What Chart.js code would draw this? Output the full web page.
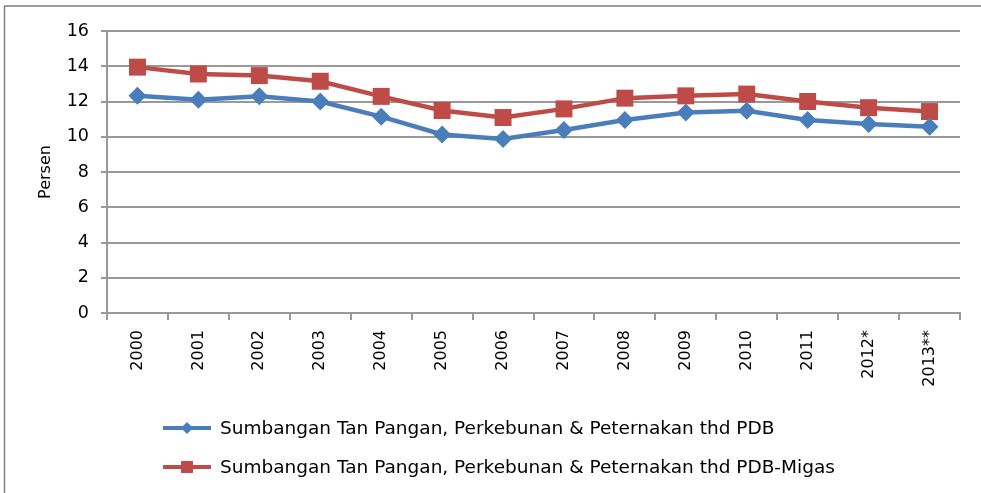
<!DOCTYPE html>
<html>
<head>
<meta charset="utf-8">
<script src="https://cdn.jsdelivr.net/npm/chart.js@4"></script>
<style>
  html, body { margin: 0; padding: 0; background: #fff; }
  #wrap { position: relative; width: 981px; height: 493px; }
</style>
</head>
<body>
<div id="wrap"><canvas id="chart" width="981" height="493"></canvas></div>
<script>
// data
const years = ['2000', '2001', '2002', '2003', '2004', '2005', '2006', '2007', '2008', '2009', '2010', '2011', '2012*', '2013**'];
const pdbValues = [12.32, 12.1, 12.3, 12.0, 11.14, 10.13, 9.87, 10.38, 10.95, 11.37, 11.47, 10.95, 10.72, 10.57];
const migasValues = [13.95, 13.56, 13.47, 13.15, 12.29, 11.49, 11.09, 11.58, 12.19, 12.32, 12.42, 12.0, 11.65, 11.43];
const seriesNames = [
    'Sumbangan Tan Pangan, Perkebunan & Peternakan thd PDB',
    'Sumbangan Tan Pangan, Perkebunan & Peternakan thd PDB-Migas'
];
const yTicks = [0, 2, 4, 6, 8, 10, 12, 14, 16];

const FONT = "'DejaVu Sans', Verdana, sans-serif";
const BLUE = '#4a7ebb';
const RED = '#be4b48';
const GRID = '#999999';

// frame and legend drawn by hand, like the office chart
const framePlugin = {
    id: 'frame',
    beforeDraw(chart) {
        const ctx = chart.ctx;
        ctx.save();
        ctx.fillStyle = '#fff';
        ctx.fillRect(0, 0, chart.width, chart.height);
        ctx.strokeStyle = '#7f7f7f';
        ctx.lineWidth = 1.5;
        ctx.beginPath();
        ctx.moveTo(4.5, chart.height);
        ctx.lineTo(4.5, 6);
        ctx.lineTo(chart.width, 6);
        ctx.stroke();
        ctx.restore();
    },
    afterDraw(chart) {
        const ctx = chart.ctx;
        const rows = [428, 467];
        ctx.save();
        chart.data.datasets.forEach((ds, i) => {
            const y = rows[i];
            ctx.strokeStyle = ds.borderColor;
            ctx.lineWidth = 4;
            ctx.beginPath();
            ctx.moveTo(163, y);
            ctx.lineTo(211, y);
            ctx.stroke();
            ctx.fillStyle = ds.backgroundColor;
            ctx.beginPath();
            if (ds.pointStyle === 'rectRot') {
                ctx.moveTo(187, y - 6);
                ctx.lineTo(193, y);
                ctx.lineTo(187, y + 6);
                ctx.lineTo(181, y);
            } else {
                ctx.rect(181, y - 6, 12, 12);
            }
            ctx.fill();
            ctx.fillStyle = '#000';
            ctx.font = '18.5px ' + FONT;
            ctx.textBaseline = 'middle';
            ctx.fillText(ds.label, 220, y + 1);
        });
        ctx.restore();
    }
};

new Chart(document.getElementById('chart'), {
    type: 'line',
    data: {
        labels: years,
        datasets: [
            {
                label: seriesNames[0],
                data: pdbValues,
                borderColor: BLUE,
                backgroundColor: BLUE,
                borderWidth: 4.5,
                pointStyle: 'rectRot',
                pointRadius: 9,
                pointBorderWidth: 0,
                tension: 0
            },
            {
                label: seriesNames[1],
                data: migasValues,
                borderColor: RED,
                backgroundColor: RED,
                borderWidth: 4.5,
                pointStyle: 'rect',
                pointRadius: 12,
                pointBorderWidth: 0,
                tension: 0
            }
        ]
    },
    options: {
        responsive: false,
        animation: false,
        layout: { padding: { top: 31, right: 21, left: 0, bottom: 0 } },
        plugins: {
            legend: { display: false },
            tooltip: { enabled: false }
        },
        scales: {
            x: {
                offset: true,
                afterFit: s => { s.height = 180; },
                grid: { offset: true, drawOnChartArea: false, drawTicks: true, tickLength: 7, color: GRID, lineWidth: 2 },
                border: { color: GRID, width: 2 },
                ticks: {
                    minRotation: 90, maxRotation: 90, autoSkip: false,
                    padding: 10, color: '#000', font: { family: FONT, size: 16 }
                }
            },
            y: {
                min: 0, max: 16,
                afterFit: s => { s.width = 107; },
                afterBuildTicks: s => { s.ticks = yTicks.map(v => ({ value: v })); },
                grid: { color: GRID, lineWidth: 2, tickLength: 6 },
                border: { color: GRID, width: 2 },
                ticks: { padding: 12, color: '#000', font: { family: FONT, size: 17.5 } },
                title: {
                    display: true, text: 'Persen', color: '#000',
                    font: { family: FONT, size: 16 }, padding: { top: 36, bottom: 0 }
                }
            }
        }
    },
    plugins: [framePlugin]
});
</script>
</body>
</html>
